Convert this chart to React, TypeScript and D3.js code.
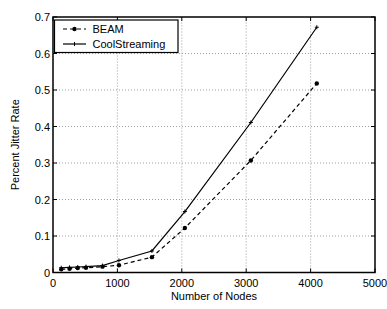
import React, { useRef, useEffect } from "react";
import * as d3 from "d3";

const nodes = [128, 256, 384, 512, 768, 1024, 1536, 2048, 3072, 4096];
const beam = [0.009, 0.01, 0.012, 0.013, 0.016, 0.02, 0.042, 0.122, 0.307, 0.518];
const cool = [0.013, 0.014, 0.015, 0.016, 0.019, 0.033, 0.059, 0.167, 0.411, 0.672];
const xTicks = [0, 1000, 2000, 3000, 4000, 5000];
const yTicks = [0, 0.1, 0.2, 0.3, 0.4, 0.5, 0.6, 0.7];

function App() {
  const svgRef = useRef<SVGSVGElement>(null);

  useEffect(() => {
    const svg = d3.select(svgRef.current);
    svg.selectAll("*").remove();
    const W = 387, H = 309;
    const m = { left: 53, top: 17, right: 12, bottom: 36.5 };
    const x = d3.scaleLinear().domain([0, 5000]).range([m.left, W - m.right]);
    const y = d3.scaleLinear().domain([0, 0.7]).range([H - m.bottom, m.top]);
    const font = "Helvetica, Arial, 'Liberation Sans', sans-serif";

    // grid
    const g = svg.append("g");
    g.selectAll(".gx").data(xTicks.slice(1, -1)).enter().append("line")
      .attr("x1", d => x(d)).attr("x2", d => x(d))
      .attr("y1", y(0)).attr("y2", y(0.7))
      .attr("stroke", "#888").attr("stroke-width", 0.8).attr("stroke-dasharray", "1,2");
    g.selectAll(".gy").data(yTicks.slice(1, -1)).enter().append("line")
      .attr("x1", x(0)).attr("x2", x(5000))
      .attr("y1", d => y(d)).attr("y2", d => y(d))
      .attr("stroke", "#888").attr("stroke-width", 0.8).attr("stroke-dasharray", "1,2");

    // inward ticks on all four sides
    const tl = 4;
    xTicks.forEach(t => {
      g.append("line").attr("x1", x(t)).attr("x2", x(t)).attr("y1", y(0)).attr("y2", y(0) - tl).attr("stroke", "#000");
      g.append("line").attr("x1", x(t)).attr("x2", x(t)).attr("y1", y(0.7)).attr("y2", y(0.7) + tl).attr("stroke", "#000");
    });
    yTicks.forEach(t => {
      g.append("line").attr("x1", x(0)).attr("x2", x(0) + tl).attr("y1", y(t)).attr("y2", y(t)).attr("stroke", "#000");
      g.append("line").attr("x1", x(5000)).attr("x2", x(5000) - tl).attr("y1", y(t)).attr("y2", y(t)).attr("stroke", "#000");
    });

    // box
    g.append("rect").attr("x", x(0)).attr("y", y(0.7))
      .attr("width", x(5000) - x(0)).attr("height", y(0) - y(0.7))
      .attr("fill", "none").attr("stroke", "#000").attr("stroke-width", 1.5);

    // tick labels
    g.selectAll(".xl").data(xTicks).enter().append("text")
      .attr("x", d => x(d)).attr("y", y(0) + 14)
      .attr("text-anchor", "middle").attr("font-family", font).attr("font-size", 11)
      .text(d => String(d));
    g.selectAll(".yl").data(yTicks).enter().append("text")
      .attr("x", x(0) - 3).attr("y", d => y(d) + 4)
      .attr("text-anchor", "end").attr("font-family", font).attr("font-size", 11)
      .text(d => (d === 0 ? "0" : d.toFixed(1)));

    // axis titles
    g.append("text").attr("x", (x(0) + x(5000)) / 2).attr("y", 300)
      .attr("text-anchor", "middle").attr("font-family", font).attr("font-size", 11)
      .text("Number of Nodes");
    g.append("text")
      .attr("transform", `translate(19, ${(y(0) + y(0.7)) / 2}) rotate(-90)`)
      .attr("text-anchor", "middle").attr("font-family", font).attr("font-size", 11)
      .text("Percent Jitter Rate");

    const line = d3.line<number>().x((_, i) => x(nodes[i])).y(d => y(d));

    // BEAM dashed with dots
    g.append("path").attr("d", line(beam)).attr("fill", "none")
      .attr("stroke", "#000").attr("stroke-width", 1.2).attr("stroke-dasharray", "4,3");
    g.selectAll(".bd").data(beam).enter().append("circle")
      .attr("cx", (_, i) => x(nodes[i])).attr("cy", d => y(d)).attr("r", 2.2).attr("fill", "#000");

    // CoolStreaming solid with plus
    g.append("path").attr("d", line(cool)).attr("fill", "none")
      .attr("stroke", "#000").attr("stroke-width", 1.2);
    const plus = (px: number, py: number) => {
      g.append("line").attr("x1", px - 2).attr("x2", px + 2).attr("y1", py).attr("y2", py).attr("stroke", "#000");
      g.append("line").attr("x1", px).attr("x2", px).attr("y1", py - 2).attr("y2", py + 2).attr("stroke", "#000");
    };
    cool.forEach((d, i) => plus(x(nodes[i]), y(d)));

    // legend
    const lg = g.append("g");
    lg.append("rect").attr("x", 54.5).attr("y", 20).attr("width", 123.5).attr("height", 32.5)
      .attr("fill", "#fff").attr("stroke", "#000").attr("stroke-width", 1.2);
    lg.append("line").attr("x1", 63).attr("x2", 86).attr("y1", 29).attr("y2", 29)
      .attr("stroke", "#000").attr("stroke-width", 1.2).attr("stroke-dasharray", "4,3");
    lg.append("circle").attr("cx", 74.5).attr("cy", 29).attr("r", 2.2).attr("fill", "#000");
    lg.append("text").attr("x", 92.5).attr("y", 33).attr("font-family", font).attr("font-size", 11).text("BEAM");
    lg.append("line").attr("x1", 63).attr("x2", 86).attr("y1", 44).attr("y2", 44)
      .attr("stroke", "#000").attr("stroke-width", 1.2);
    lg.append("line").attr("x1", 74.5).attr("x2", 74.5).attr("y1", 42).attr("y2", 46).attr("stroke", "#000");
    lg.append("text").attr("x", 92.5).attr("y", 48).attr("font-family", font).attr("font-size", 11).text("CoolStreaming");
  }, []);

  return (
    <svg ref={svgRef} width={387} height={309}
      style={{ position: "absolute", left: 0, top: 0, background: "#fff" }} />
  );
}

export default App;
